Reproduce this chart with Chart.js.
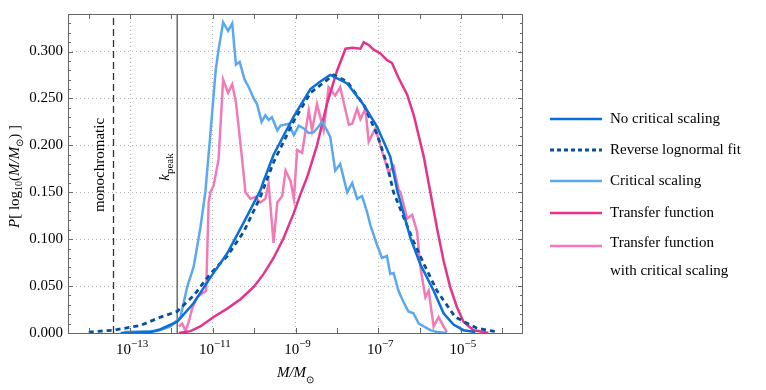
<!DOCTYPE html>
<html>
<head>
<meta charset="utf-8">
<script src="https://cdn.jsdelivr.net/npm/chart.js@4"></script>
<style>body{margin:0;background:#fff}</style>
</head>
<body>
<canvas id="myChart" width="766" height="390"></canvas>
<script>
// x values are log10(M/Msun)
var noCritX = [-13.23,-12.50,-12.26,-11.86,-11.46,-11.06,-10.65,-10.25,-9.85,-9.77,-9.53,-9.04,-8.64,-8.40,-8.16,-7.75,-7.35,-7.03,-6.71,-6.54,-6.22,-5.98,-5.66,-5.42,-5.18,-4.94,-4.65];
var noCritY = [0.000,0.001,0.004,0.012,0.032,0.059,0.085,0.118,0.152,0.162,0.190,0.231,0.260,0.268,0.275,0.266,0.243,0.220,0.188,0.152,0.101,0.073,0.045,0.021,0.009,0.003,0.001];

var fitX = [-14.00,-13.40,-12.75,-12.26,-11.86,-11.46,-11.06,-10.65,-10.25,-9.85,-9.53,-9.04,-8.64,-8.08,-7.75,-7.35,-7.03,-6.79,-6.63,-6.15,-5.90,-5.58,-5.14,-4.61,-4.09];
var fitY = [0.001,0.003,0.008,0.017,0.023,0.040,0.063,0.082,0.108,0.145,0.182,0.226,0.256,0.275,0.268,0.243,0.212,0.180,0.150,0.098,0.074,0.045,0.017,0.005,0.001];

var critX = [-13.15,-12.34,-12.02,-11.78,-11.62,-11.46,-11.30,-11.18,-11.06,-10.93,-10.86,-10.75,-10.63,-10.53,-10.44,-10.35,-10.23,-10.13,-10.01,-9.93,-9.82,-9.73,-9.65,-9.57,-9.44,-9.36,-9.16,-9.04,-8.92,-8.80,-8.68,-8.56,-8.44,-8.36,-8.24,-8.16,-8.04,-7.92,-7.75,-7.63,-7.51,-7.39,-7.27,-7.19,-7.03,-6.91,-6.79,-6.71,-6.63,-6.51,-6.39,-6.27,-6.15,-6.02,-5.74,-5.58,-5.34];
var critY = [0.001,0.002,0.007,0.017,0.049,0.071,0.112,0.150,0.211,0.280,0.302,0.331,0.322,0.330,0.286,0.289,0.270,0.262,0.250,0.244,0.225,0.232,0.227,0.230,0.216,0.221,0.223,0.211,0.221,0.218,0.213,0.214,0.220,0.225,0.216,0.209,0.173,0.180,0.150,0.160,0.143,0.146,0.129,0.115,0.094,0.080,0.082,0.063,0.064,0.045,0.033,0.023,0.021,0.010,0.003,0.001,0.000];

var tfX = [-11.82,-11.54,-11.30,-10.98,-10.65,-10.33,-10.01,-9.77,-9.53,-9.29,-9.04,-8.88,-8.72,-8.48,-8.24,-8.00,-7.79,-7.63,-7.43,-7.35,-7.23,-7.11,-6.95,-6.79,-6.67,-6.51,-6.30,-6.14,-5.90,-5.74,-5.58,-5.42,-5.26,-5.10,-4.94,-4.70,-4.45,-4.34];
var tfY = [0.000,0.002,0.007,0.017,0.026,0.036,0.049,0.063,0.080,0.101,0.128,0.148,0.166,0.200,0.244,0.279,0.303,0.304,0.303,0.310,0.307,0.302,0.298,0.291,0.288,0.272,0.254,0.232,0.188,0.150,0.112,0.077,0.049,0.028,0.012,0.003,0.001,0.000];

var tfCritX = [-11.82,-11.74,-11.66,-11.58,-11.50,-11.38,-11.26,-11.16,-11.10,-11.06,-10.98,-10.86,-10.75,-10.63,-10.53,-10.44,-10.29,-10.21,-10.09,-9.97,-9.85,-9.73,-9.65,-9.53,-9.44,-9.32,-9.24,-9.12,-9.04,-8.96,-8.84,-8.68,-8.60,-8.48,-8.32,-8.20,-8.04,-7.92,-7.71,-7.63,-7.51,-7.43,-7.31,-7.23,-7.07,-6.91,-6.75,-6.63,-6.51,-6.46,-6.30,-6.18,-6.06,-5.98,-5.86,-5.78,-5.66,-5.54,-5.42,-5.34];
var tfCritY = [0.007,0.010,0.002,0.012,0.026,0.038,0.042,0.045,0.139,0.150,0.157,0.185,0.270,0.256,0.265,0.246,0.185,0.150,0.143,0.145,0.139,0.143,0.159,0.096,0.139,0.146,0.173,0.162,0.143,0.195,0.192,0.237,0.216,0.244,0.216,0.262,0.253,0.262,0.222,0.223,0.239,0.228,0.239,0.204,0.218,0.194,0.171,0.178,0.153,0.150,0.122,0.126,0.108,0.070,0.038,0.045,0.007,0.017,0.007,0.001];

var seriesLabels = ['No critical scaling', 'Reverse lognormal fit', 'Critical scaling', 'Transfer function', 'Transfer function\nwith critical scaling'];
var yTicks = [0, 0.05, 0.10, 0.15, 0.20, 0.25, 0.30];
var xTickExps = [-13, -11, -9, -7, -5];
var monoX = -13.4;
var kpeakX = -11.86;

var SERIF = '"Liberation Serif", "Times New Roman", serif';
Chart.defaults.font.family = SERIF;
Chart.defaults.color = '#000';

function pts(xs, ys) {
  return xs.map(function (x, i) { return {x: x, y: ys[i]}; });
}

function line(label, xs, ys, color, dash, width) {
  return {
    label: label,
    data: pts(xs, ys),
    borderColor: color,
    backgroundColor: 'transparent',
    borderWidth: width || 2.5,
    borderDash: dash || [],
    pointRadius: 0,
    tension: 0,
    fill: false
  };
}

function richText(ctx, parts, cx, cy, rot) {
  ctx.save();
  ctx.translate(cx, cy);
  if (rot) ctx.rotate(rot);
  var w = 0;
  parts.forEach(function (p) { ctx.font = p.f; p.w = ctx.measureText(p.t).width; w += p.w; });
  var x = -w / 2;
  ctx.textBaseline = 'middle';
  ctx.textAlign = 'left';
  ctx.fillStyle = '#000';
  parts.forEach(function (p) { ctx.font = p.f; ctx.fillText(p.t, x, p.dy || 0); x += p.w; });
  ctx.restore();
}

var N15 = '15px ' + SERIF, I15 = 'italic 15px ' + SERIF, S10 = '10px ' + SERIF, S11 = '11px ' + SERIF;

var decor = {
  id: 'decor',
  afterDatasetsDraw: function (chart) {
    var ctx = chart.ctx, a = chart.chartArea;
    var xs = chart.scales.x, ys = chart.scales.y;
    ctx.save();
    ctx.strokeStyle = '#666';
    ctx.lineWidth = 1;
    ctx.strokeRect(a.left + 0.5, a.top + 0.5, a.right - a.left - 1, a.bottom - a.top);
    // inside ticks
    ctx.beginPath();
    for (var e = -14; e <= -4; e++) {
      var px = Math.round(xs.getPixelForValue(e)) + 0.5;
      ctx.moveTo(px, a.bottom); ctx.lineTo(px, a.bottom - 5);
      ctx.moveTo(px, a.top); ctx.lineTo(px, a.top + 5);
    }
    for (var k = 0; k <= 34; k++) {
      var py = Math.round(ys.getPixelForValue(k / 100)) + 0.5;
      var len = (k % 5 === 0) ? 5 : 3;
      ctx.moveTo(a.left, py); ctx.lineTo(a.left + len, py);
      ctx.moveTo(a.right, py); ctx.lineTo(a.right - len, py);
    }
    ctx.stroke();
    ctx.restore();
  },
  afterDraw: function (chart) {
    var ctx = chart.ctx, a = chart.chartArea;
    var xs = chart.scales.x;
    // x tick labels
    xTickExps.forEach(function (e) {
      richText(ctx, [{t: '10', f: N15}, {t: '\u2212' + Math.abs(e), f: S11, dy: -6}], xs.getPixelForValue(e) + 2, 350);
    });
    // axis titles
    richText(ctx, [{t: 'M', f: I15}, {t: '/', f: I15}, {t: 'M', f: I15}, {t: '\u2299', f: S10, dy: 7}], (a.left + a.right) / 2, 373);
    richText(ctx, [{t: 'P', f: I15}, {t: '[ log', f: N15}, {t: '10', f: S10, dy: 4}, {t: '(', f: N15},
      {t: 'M', f: I15}, {t: '/', f: I15}, {t: 'M', f: I15}, {t: '\u2299', f: S10, dy: 5}, {t: ')', f: N15}, {t: ' ]', f: N15}],
      15, (a.top + a.bottom) / 2 + 3, -Math.PI / 2);
    // annotations
    richText(ctx, [{t: 'monochromatic', f: N15}], xs.getPixelForValue(monoX) - 13, 165, -Math.PI / 2);
    richText(ctx, [{t: 'k', f: I15}, {t: 'peak', f: S11, dy: 5}], xs.getPixelForValue(kpeakX) - 12, 167, -Math.PI / 2);
    // legend
    var rowY = [119, 150, 181, 213, 246];
    ctx.save();
    for (var i = 0; i < 5; i++) {
      var ds = chart.data.datasets[i];
      ctx.strokeStyle = ds.borderColor;
      ctx.lineWidth = ds.borderWidth;
      ctx.setLineDash(ds.borderDash.length ? [4, 3] : []);
      ctx.beginPath();
      ctx.moveTo(550, rowY[i]); ctx.lineTo(602, rowY[i]);
      ctx.stroke();
      ctx.setLineDash([]);
      ctx.font = N15;
      ctx.fillStyle = '#000';
      ctx.textBaseline = 'middle';
      ctx.textAlign = 'left';
      ds.label.split('\n').forEach(function (t, j) {
        ctx.fillText(t, 610, rowY[i] - (ds.label.indexOf('\n') > 0 ? 3 : 0) + j * 28);
      });
    }
    ctx.restore();
  }
};

var myChart;
window.onload = function () {
  var ctx = document.getElementById('myChart');
  myChart = new Chart(ctx, {
    type: 'line',
    data: {
      datasets: [
        line(seriesLabels[0], noCritX, noCritY, '#0a6fd8'),
        line(seriesLabels[1], fitX, fitY, '#0b4f9c', [5, 4], 2.8),
        line(seriesLabels[2], critX, critY, '#5aa9ee'),
        line(seriesLabels[3], tfX, tfY, '#e5338b'),
        line(seriesLabels[4], tfCritX, tfCritY, '#f27ab6'),
        line('mono', [monoX, monoX], [0, 0.34], '#333', [7, 4], 1.3),
        line('kpeak', [kpeakX, kpeakX], [0, 0.34], '#555', [], 1.3)
      ]
    },
    options: {
      responsive: false,
      animation: false,
      layout: {padding: {left: 0, right: 243, top: 8, bottom: 0}},
      plugins: {legend: {display: false}, tooltip: {enabled: false}},
      scales: {
        x: {
          type: 'linear', min: -14.5, max: -3.5,
          afterBuildTicks: function (s) { s.ticks = xTickExps.map(function (v) { return {value: v}; }); },
          afterFit: function (s) { s.height = 57; },
          ticks: {display: false},
          grid: {color: '#b5b5b5', drawTicks: false},
          border: {display: false, dash: [1, 3]}
        },
        y: {
          min: 0, max: 0.34,
          afterBuildTicks: function (s) { s.ticks = yTicks.map(function (v) { return {value: v}; }); },
          afterFit: function (s) { s.width = 68; },
          ticks: {font: {size: 15}, padding: 5, callback: function (v) { return v.toFixed(3); }},
          grid: {color: '#b5b5b5', drawTicks: false},
          border: {display: false, dash: [1, 3]}
        }
      }
    },
    plugins: [decor]
  });
};
</script>
</body>
</html>
